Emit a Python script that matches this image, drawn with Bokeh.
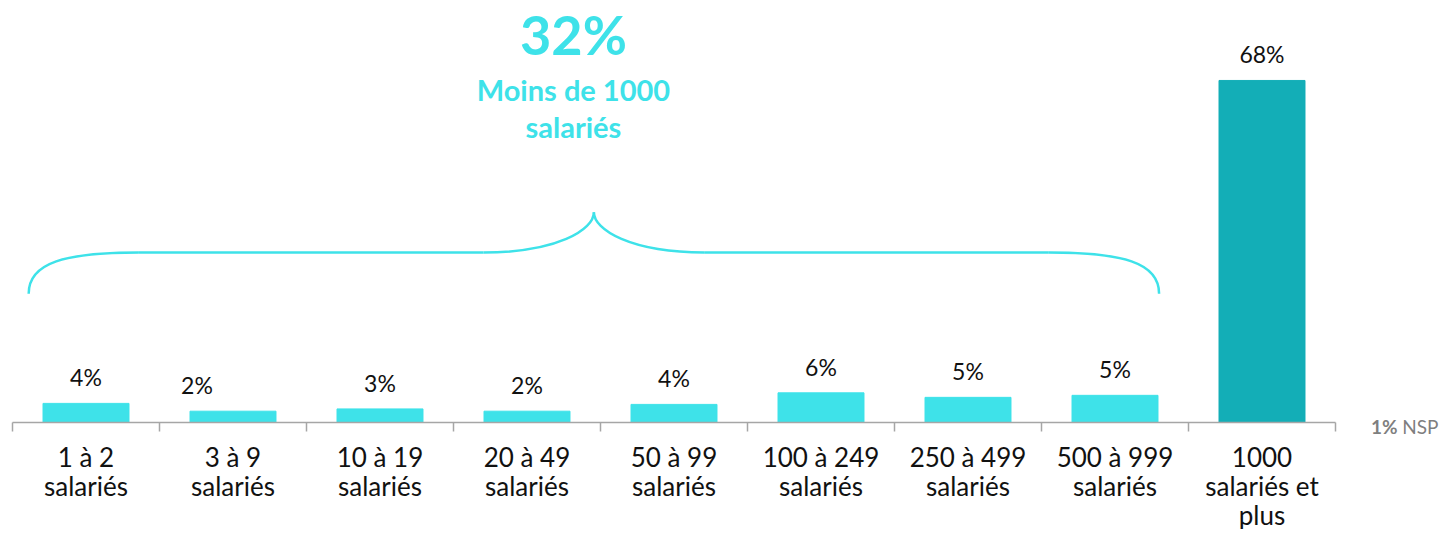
from bokeh.plotting import figure
from bokeh.models import Range1d, ColumnDataSource
from bokeh.core.properties import value
from bokeh.embed import file_html
from bokeh.resources import INLINE

# ---- data ----
categories = ["1 à 2\nsalariés", "3 à 9\nsalariés", "10 à 19\nsalariés", "20 à 49\nsalariés",
              "50 à 99\nsalariés", "100 à 249\nsalariés", "250 à 499\nsalariés",
              "500 à 999\nsalariés", "1000\nsalariés et\nplus"]
values = [3.8, 2.25, 2.7, 2.25, 3.6, 5.9, 5.0, 5.4, 68.0]
value_labels = ["4%", "2%", "3%", "2%", "4%", "6%", "5%", "5%", "68%"]
label_shift = [0, -36, 0, 0, 0, 0, 0, 0, 0]   # px shift of a data label (as in source)
group_total = "32%"
group_title = "Moins de 1000\nsalariés"
nsp_value = "1%"
nsp_text = "NSP"

# ---- style ----
LIGHT = "#3EE2E9"
DARK = "#13AEB7"
AXIS = "#A6A6A6"
FONT = "Lato"
W, H = 1440, 529
PX_CAT = 147.0      # px per category
X0 = 12.0           # canvas x of first boundary
PX_PCT = 5.03       # px per percent
Y0 = 422.0          # canvas y of baseline

n = len(categories)
centers = [i + 0.5 for i in range(n)]
colors = [LIGHT] * (n - 1) + [DARK]

p = figure(width=W, height=H, output_backend="svg", toolbar_location=None,
           min_border=0, outline_line_color=None,
           x_range=Range1d(-X0 / PX_CAT, (W - X0) / PX_CAT),
           y_range=Range1d(-(H - Y0) / PX_PCT, Y0 / PX_PCT))
p.axis.visible = False
p.grid.visible = False
p.background_fill_color = "white"
p.border_fill_color = "white"

# bars
src = ColumnDataSource(dict(x=centers, top=values, color=colors, lab=value_labels, dx=label_shift))
p.vbar(x="x", top="top", bottom=0, width=0.585, color="color", source=src)

# value labels
p.text(x="x", y="top", text="lab", source=src, x_offset="dx", y_offset=-26,
       text_align="center", text_baseline="middle", text_font=value(FONT),
       text_font_size="23px", text_color="#111111")

# baseline axis + boundary ticks
p.segment(x0=[0], y0=[0], x1=[n], y1=[0], line_color=AXIS, line_width=1.5)
tick_px = 9 / PX_PCT
p.segment(x0=list(range(n + 1)), y0=[0] * (n + 1), x1=list(range(n + 1)),
          y1=[-tick_px] * (n + 1), line_color=AXIS, line_width=1.5)

# category labels (multi-line)
lx, ly, lt, loff = [], [], [], []
for c, cat in zip(centers, categories):
    for j, line in enumerate(cat.split("\n")):
        lx.append(c); ly.append(0); lt.append(line); loff.append(34 + 29 * j)
p.text(x=lx, y=ly, text=lt, y_offset=loff, text_align="center", text_baseline="middle",
       text_font=value(FONT), text_font_size="26px", text_color="#111111")

# brace over the small-company group
bx0, bx1 = 0.11, 7.80
bmid = (bx0 + bx1) / 2
yb, yh, yt = 25.6, 33.8, 41.8
curl = 0.75  # category units of the end curls
p.bezier(x0=[bx0, bmid - curl, bmid, bx1],
         y0=[yb, yh, yt, yb],
         x1=[bx0 + curl, bmid, bmid + curl, bx1 - curl],
         y1=[yh, yt, yh, yh],
         cx0=[bx0, bmid - curl + 0.5, bmid, bx1],
         cy0=[yh - 2.0, yh, yt - 3.5, yh - 2.0],
         cx1=[bx0 + 0.25, bmid, bmid + curl - 0.5, bx1 - 0.25],
         cy1=[yh, yt - 3.5, yh, yh],
         line_color=LIGHT, line_width=2.5)
p.segment(x0=[bx0 + curl, bmid + curl], y0=[yh, yh], x1=[bmid - curl, bx1 - curl], y1=[yh, yh],
          line_color=LIGHT, line_width=2.5)

# group title
tx = 3.816
p.text(x=[tx], y=[77.1], text=[group_total], text_align="center", text_baseline="middle",
       text_font=value(FONT), text_font_style="bold", text_font_size="54px", text_color=LIGHT)
title_lines = group_title.split("\n")
p.text(x=[tx] * len(title_lines), y=[66.3] * len(title_lines), text=title_lines,
       y_offset=[37 * j for j in range(len(title_lines))],
       text_align="center", text_baseline="middle",
       text_font=value(FONT), text_font_style="bold", text_font_size="29px", text_color=LIGHT)

# NSP note
xr = (W - 2 - X0) / PX_CAT
p.text(x=[xr], y=[0], text=[nsp_text], y_offset=4, text_align="right", text_baseline="middle",
       text_font=value(FONT), text_font_size="19px", text_color="#7F7F7F")
p.text(x=[xr], y=[0], text=[nsp_value], y_offset=4, x_offset=-41, text_align="right",
       text_baseline="middle", text_font=value(FONT), text_font_style="bold",
       text_font_size="19px", text_color="#7F7F7F")

open("out.html", "w").write(file_html(p, INLINE))
